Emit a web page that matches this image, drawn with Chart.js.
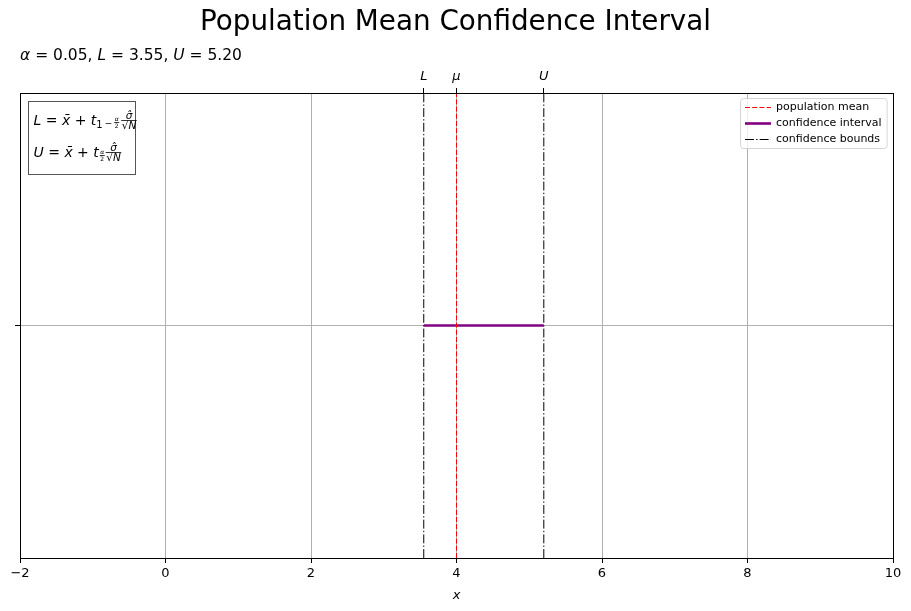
<!DOCTYPE html>
<html>
<head>
<meta charset="utf-8">
<script src="https://cdn.jsdelivr.net/npm/chart.js@4"></script>
<style>
  body { margin: 0; background: #fff; }
  canvas { display: block; }
</style>
</head>
<body>
<canvas id="ciChart" width="911" height="611"></canvas>
<script>
// values
var xLimits = [-2, 10];
var xTicks = [-2, 0, 2, 4, 6, 8, 10];
var alphaLevel = 0.05;
var boundLabels = ['L', 'μ', 'U'];
var boundValues = [3.55, 4.0, 5.20];
var meanX = [4.0];
var intervalX = [3.55, 5.20];
var yLimits = [-1, 1];

var legendLabels = ['population mean', 'confidence interval', 'confidence bounds'];
var FONT = '"DejaVu Sans", sans-serif';

var meanStyle = { color: '#ff0000', width: 1, dash: [5, 2.2] };
var intervalStyle = { color: '#800080', width: 2.6, dash: [] };
var boundStyle = { color: '#000000', width: 1, dash: [8.9, 2.2, 1.4, 2.2] };
var legendStyles = [meanStyle, intervalStyle, boundStyle];

function vline(x) {
    return [{ x: x, y: yLimits[0] }, { x: x, y: yLimits[1] }];
}

function makeSet(points, st) {
    return {
        data: points,
        borderColor: st.color,
        borderWidth: st.width,
        borderDash: st.dash,
        showLine: true,
        pointRadius: 0,
        fill: false
    };
}

var datasets = [
    makeSet(vline(meanX[0]), meanStyle),
    makeSet(intervalX.map(function(v) { return { x: v, y: 0 }; }), intervalStyle),
    makeSet(vline(intervalX[0]), boundStyle),
    makeSet(vline(intervalX[1]), boundStyle)
];

function txt(ctx, s, x, y, size, italic) {
    ctx.font = (italic ? 'italic ' : '') + size + 'px ' + FONT;
    ctx.fillText(s, x, y);
    return x + ctx.measureText(s).width;
}

// draw a run of [text, italic] pieces, returns end x
function run(ctx, parts, x, y, size) {
    parts.forEach(function(p) {
        x = txt(ctx, p[0], x, y, size, p[1]);
    });
    return x;
}

// small stacked fraction starting at x, returns end x
function frac(ctx, top, bottom, x, barY, size, italicTop, italicBottom) {
    ctx.font = (italicTop ? 'italic ' : '') + size + 'px ' + FONT;
    var wt = ctx.measureText(top).width;
    ctx.font = (italicBottom ? 'italic ' : '') + size + 'px ' + FONT;
    var wb = ctx.measureText(bottom).width;
    var w = Math.max(wt, wb) + 1;
    var cx = x + w / 2;
    ctx.textAlign = 'center';
    ctx.font = (italicTop ? 'italic ' : '') + size + 'px ' + FONT;
    ctx.fillText(top, cx, barY - 1.5);
    ctx.font = (italicBottom ? 'italic ' : '') + size + 'px ' + FONT;
    ctx.textBaseline = 'top';
    ctx.fillText(bottom, cx, barY + 1);
    ctx.textBaseline = 'alphabetic';
    ctx.lineWidth = 0.8;
    ctx.strokeStyle = '#000';
    ctx.beginPath();
    ctx.moveTo(x, barY);
    ctx.lineTo(x + w, barY);
    ctx.stroke();
    ctx.textAlign = 'left';
    return x + w;
}

var decorPlugin = {
    id: 'decor',
    afterDraw: function(chart) {
        var ctx = chart.ctx;
        var a = chart.chartArea;
        ctx.save();
        ctx.fillStyle = '#000';

        // title
        ctx.textAlign = 'center';
        ctx.textBaseline = 'middle';
        ctx.font = '27.8px ' + FONT;
        ctx.fillText('Population Mean Confidence Interval', chart.width / 2, 23);

        // subtitle
        ctx.textAlign = 'left';
        ctx.textBaseline = 'alphabetic';
        run(ctx, [
            ['α', true], [' = ' + alphaLevel.toFixed(2) + ', ', false],
            ['L', true], [' = ' + boundValues[0].toFixed(2) + ', ', false],
            ['U', true], [' = ' + boundValues[2].toFixed(2), false]
        ], a.left, 60, 15.5);

        // frame
        ctx.strokeStyle = '#000';
        ctx.lineWidth = 1;
        ctx.strokeRect(Math.round(a.left) + 0.5, Math.round(a.top) + 0.5,
            Math.round(a.right - a.left), Math.round(a.bottom - a.top));

        // formula box
        var bx = a.left + 8.5, by = a.top + 8.5;
        ctx.fillStyle = '#fff';
        ctx.fillRect(bx, by, 107, 73);
        ctx.strokeStyle = '#555';
        ctx.lineWidth = 1;
        ctx.strokeRect(bx, by, 107, 73);
        ctx.fillStyle = '#000';

        var x, y1 = by + 23, y2 = by + 55;
        x = run(ctx, [['L', true], [' = ', false], ['x̄', true], [' + ', false], ['t', true]], bx + 5, y1, 14);
        x = txt(ctx, '1', x, y1 + 3, 10, false);
        x = txt(ctx, '−', x + 2, y1 + 1, 9, false);
        x = frac(ctx, 'α', '2', x + 2, y1 - 2, 6, true, false);
        frac(ctx, 'σ̂', '√N', x + 2, y1 - 4, 10.5, true, true);

        x = run(ctx, [['U', true], [' = ', false], ['x̄', true], [' + ', false], ['t', true]], bx + 5, y2, 14);
        x = frac(ctx, 'α', '2', x + 1, y2 - 1, 6, true, false);
        frac(ctx, 'σ̂', '√N', x + 1, y2 - 4, 10.5, true, true);

        // legend
        ctx.font = '11px ' + FONT;
        var maxW = 0;
        legendLabels.forEach(function(l) { maxW = Math.max(maxW, ctx.measureText(l).width); });
        var lw = 5 + 26 + 5 + maxW + 5, lh = 50;
        var lx = Math.round(a.right - 6 - lw), ly = a.top + 5;
        ctx.fillStyle = 'rgba(255,255,255,0.8)';
        ctx.strokeStyle = '#ccc';
        ctx.beginPath();
        ctx.roundRect(lx + 0.5, ly + 0.5, lw, lh, 3);
        ctx.fill();
        ctx.stroke();
        ctx.textBaseline = 'middle';
        legendLabels.forEach(function(l, i) {
            var st = legendStyles[i];
            var yy = Math.round(ly + 9 + i * 16);
            ctx.strokeStyle = st.color;
            ctx.lineWidth = st.width;
            ctx.setLineDash(st.dash);
            ctx.beginPath();
            ctx.moveTo(lx + 5, yy + 0.5);
            ctx.lineTo(lx + 31, yy + 0.5);
            ctx.stroke();
            ctx.setLineDash([]);
            ctx.fillStyle = '#000';
            ctx.fillText(l, lx + 36, yy);
        });
        ctx.restore();
    }
};

var ctx = document.getElementById('ciChart').getContext('2d');
var chart = new Chart(ctx, {
    type: 'scatter',
    data: { datasets: datasets },
    plugins: [decorPlugin],
    options: {
        responsive: false,
        animation: false,
        devicePixelRatio: 1,
        layout: { padding: { left: 0, right: 18, top: 0, bottom: 0 } },
        plugins: {
            legend: { display: false },
            title: { display: false },
            tooltip: { enabled: false }
        },
        scales: {
            x: {
                type: 'linear', position: 'bottom',
                min: xLimits[0], max: xLimits[1],
                afterBuildTicks: function(s) { s.ticks = xTicks.map(function(v) { return { value: v }; }); },
                ticks: {
                    color: '#000', font: { size: 13, family: FONT }, padding: 3,
                    autoSkip: false, maxRotation: 0,
                    callback: function(v) { return v < 0 ? '−' + Math.abs(v) : String(v); }
                },
                grid: { color: '#b0b0b0', lineWidth: 1, tickColor: '#000', tickLength: 5 },
                border: { color: '#000', width: 1 },
                title: {
                    display: true, text: 'x', color: '#000',
                    font: { size: 13, family: FONT, style: 'italic' },
                    padding: { top: 0, bottom: 8 }
                },
                afterFit: function(s) { s.height = 53; }
            },
            x2: {
                type: 'linear', position: 'top',
                min: xLimits[0], max: xLimits[1],
                afterBuildTicks: function(s) { s.ticks = boundValues.map(function(v) { return { value: v }; }); },
                ticks: {
                    color: '#000', font: { size: 13, family: FONT, style: 'italic' }, padding: 4,
                    autoSkip: false, maxRotation: 0,
                    callback: function(v, i) { return boundLabels[i]; }
                },
                grid: { drawOnChartArea: false, tickColor: '#000', tickLength: 5 },
                border: { color: '#000', width: 1 },
                afterFit: function(s) { s.height = 93; }
            },
            y: {
                min: yLimits[0], max: yLimits[1],
                afterBuildTicks: function(s) { s.ticks = [{ value: 0 }]; },
                ticks: { callback: function() { return ''; }, padding: 0 },
                grid: { color: '#b0b0b0', lineWidth: 1, tickColor: '#000', tickLength: 5 },
                border: { color: '#000', width: 1 },
                afterFit: function(s) { s.width = 20; }
            }
        }
    }
});
</script>
</body>
</html>
